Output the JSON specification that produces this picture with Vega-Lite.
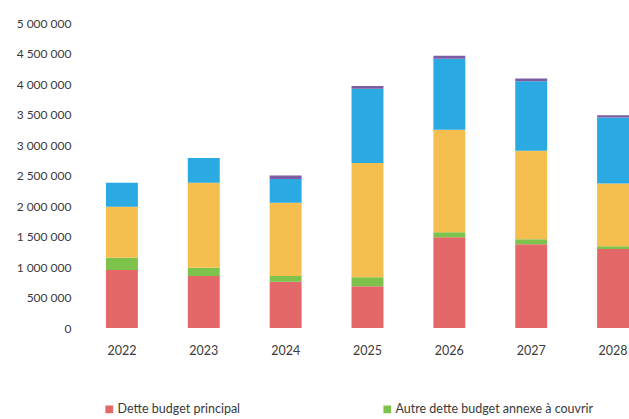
{
  "$schema": "https://vega.github.io/schema/vega-lite/v6.json",
  "width": 573,
  "height": 305,
  "padding": {"left": 16, "top": 17, "right": 0, "bottom": 0},
  "background": "white",
  "data": {
    "values": [
      {"annee": "2022", "serie": "Dette budget principal", "ordre": 1, "montant": 951000},
      {"annee": "2022", "serie": "Autre dette budget annexe à couvrir", "ordre": 2, "montant": 201000},
      {"annee": "2022", "serie": "Dette budgets annexes", "ordre": 3, "montant": 837000},
      {"annee": "2022", "serie": "Nouveaux emprunts", "ordre": 4, "montant": 393000},
      {"annee": "2022", "serie": "Autres", "ordre": 5, "montant": 0},
      {"annee": "2023", "serie": "Dette budget principal", "ordre": 1, "montant": 852000},
      {"annee": "2023", "serie": "Autre dette budget annexe à couvrir", "ordre": 2, "montant": 137000},
      {"annee": "2023", "serie": "Dette budgets annexes", "ordre": 3, "montant": 1393000},
      {"annee": "2023", "serie": "Nouveaux emprunts", "ordre": 4, "montant": 405000},
      {"annee": "2023", "serie": "Autres", "ordre": 5, "montant": 0},
      {"annee": "2024", "serie": "Dette budget principal", "ordre": 1, "montant": 759000},
      {"annee": "2024", "serie": "Autre dette budget annexe à couvrir", "ordre": 2, "montant": 93000},
      {"annee": "2024", "serie": "Dette budgets annexes", "ordre": 3, "montant": 1202000},
      {"annee": "2024", "serie": "Nouveaux emprunts", "ordre": 4, "montant": 389000},
      {"annee": "2024", "serie": "Autres", "ordre": 5, "montant": 55000},
      {"annee": "2025", "serie": "Dette budget principal", "ordre": 1, "montant": 684000},
      {"annee": "2025", "serie": "Autre dette budget annexe à couvrir", "ordre": 2, "montant": 147000},
      {"annee": "2025", "serie": "Dette budgets annexes", "ordre": 3, "montant": 1874000},
      {"annee": "2025", "serie": "Nouveaux emprunts", "ordre": 4, "montant": 1218000},
      {"annee": "2025", "serie": "Autres", "ordre": 5, "montant": 45000},
      {"annee": "2026", "serie": "Dette budget principal", "ordre": 1, "montant": 1487000},
      {"annee": "2026", "serie": "Autre dette budget annexe à couvrir", "ordre": 2, "montant": 82000},
      {"annee": "2026", "serie": "Dette budgets annexes", "ordre": 3, "montant": 1682000},
      {"annee": "2026", "serie": "Nouveaux emprunts", "ordre": 4, "montant": 1164000},
      {"annee": "2026", "serie": "Autres", "ordre": 5, "montant": 50000},
      {"annee": "2027", "serie": "Dette budget principal", "ordre": 1, "montant": 1372000},
      {"annee": "2027", "serie": "Autre dette budget annexe à couvrir", "ordre": 2, "montant": 82000},
      {"annee": "2027", "serie": "Dette budgets annexes", "ordre": 3, "montant": 1453000},
      {"annee": "2027", "serie": "Nouveaux emprunts", "ordre": 4, "montant": 1137000},
      {"annee": "2027", "serie": "Autres", "ordre": 5, "montant": 45000},
      {"annee": "2028", "serie": "Dette budget principal", "ordre": 1, "montant": 1295000},
      {"annee": "2028", "serie": "Autre dette budget annexe à couvrir", "ordre": 2, "montant": 44000},
      {"annee": "2028", "serie": "Dette budgets annexes", "ordre": 3, "montant": 1028000},
      {"annee": "2028", "serie": "Nouveaux emprunts", "ordre": 4, "montant": 1082000},
      {"annee": "2028", "serie": "Autres", "ordre": 5, "montant": 40000}
    ]
  },
  "mark": {"type": "bar"},
  "encoding": {
    "x": {
      "field": "annee",
      "type": "ordinal",
      "scale": {"paddingInner": 0.61, "paddingOuter": 0.305},
      "axis": {
        "title": null,
        "labelAngle": 0,
        "domain": false,
        "ticks": false,
        "labelPadding": 16,
        "labelFont": "Lato",
        "labelFontSize": 12.5,
        "labelColor": "#3a3a3a"
      }
    },
    "y": {
      "field": "montant",
      "type": "quantitative",
      "aggregate": "sum",
      "stack": "zero",
      "scale": {"domain": [0, 5000000], "nice": false},
      "axis": {
        "title": null,
        "values": [0, 500000, 1000000, 1500000, 2000000, 2500000, 3000000, 3500000, 4000000, 4500000, 5000000],
        "labelExpr": "replace(format(datum.value, ','), /,/g, ' ')",
        "domain": false,
        "ticks": false,
        "grid": false,
        "labelPadding": 10,
        "labelFont": "Lato",
        "labelFontSize": 12,
        "labelColor": "#3a3a3a"
      }
    },
    "color": {
      "field": "serie",
      "type": "nominal",
      "scale": {
        "domain": ["Dette budget principal", "Autre dette budget annexe à couvrir", "Dette budgets annexes", "Nouveaux emprunts", "Autres"],
        "range": ["#e4686a", "#7dc24a", "#f5bf50", "#2aa9e2", "#7d5ca3"]
      },
      "legend": {
        "title": null,
        "values": ["Dette budget principal", "Autre dette budget annexe à couvrir"],
        "orient": "none",
        "direction": "horizontal",
        "legendX": 22,
        "legendY": 380,
        "columnPadding": 140,
        "labelLimit": 0,
        "symbolType": "square",
        "symbolSize": 60,
        "symbolOffset": 0,
        "labelOffset": 2,
        "labelFont": "Lato",
        "labelFontSize": 12.5,
        "labelColor": "#3a3a3a"
      }
    },
    "order": {"field": "ordre", "type": "quantitative", "aggregate": "min"}
  },
  "config": {"view": {"stroke": null}}
}
